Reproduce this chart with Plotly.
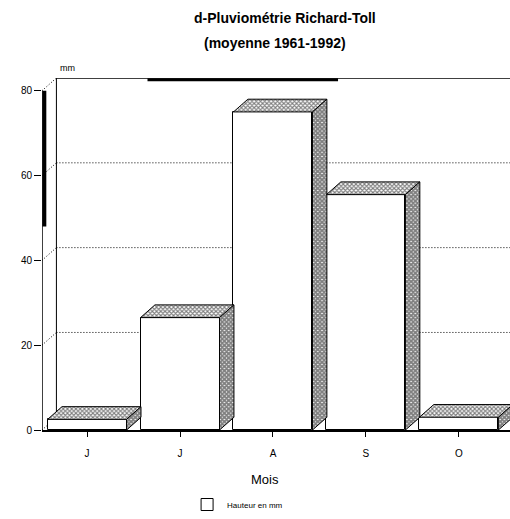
import plotly.graph_objects as go

# ---- data ----
months = ["J", "J", "A", "S", "O"]
rain_mm = [2.5, 26.5, 75.0, 55.5, 3.0]
y_ticks = [0, 20, 40, 60, 80]
y_tick_labels = ["0", "20", "40", "60", "80"]
series_name = "Hauteur en mm"

# ---- geometry (styles) ----
W, H = 510, 519
ML, MR, MT, MB = 42, 0, 78, 83
X_MIN, X_MAX = -0.485, 4.55
Y_MAX = 83.0
BAR_W = 0.85
DX, DY = 0.155, 3.0   # pseudo-3D depth in data units
FONT = "Liberation Sans"

xs = list(range(len(months)))
fig = go.Figure()

# front faces
fig.add_trace(go.Bar(
    x=xs, y=rain_mm, width=BAR_W, name=series_name,
    marker=dict(color="white", line=dict(color="black", width=1)),
    showlegend=True, hoverinfo="skip"))

# top and side faces derived from values
for x, v in zip(xs, rain_mm):
    x0, x1 = x - BAR_W / 2, x + BAR_W / 2
    fig.add_trace(go.Scatter(
        x=[x0, x1, x1 + DX, x0 + DX, x0],
        y=[v, v, v + DY, v + DY, v],
        mode="lines", fill="toself", fillcolor="white",
        fillpattern=dict(shape="x", size=3, solidity=0.6,
                         fgcolor="black", bgcolor="white"),
        line=dict(color="black", width=1),
        showlegend=False, hoverinfo="skip"))
    fig.add_trace(go.Scatter(
        x=[x1, x1 + DX, x1 + DX, x1, x1],
        y=[0, DY, v + DY, v, 0],
        mode="lines", fill="toself", fillcolor="white",
        fillpattern=dict(shape="x", size=3, solidity=0.85,
                         fgcolor="black", bgcolor="white"),
        line=dict(color="black", width=1),
        showlegend=False, hoverinfo="skip"))

shapes = []
# back-wall dotted grid lines and diagonal connectors
for t in y_ticks:
    if 0 < t < 80:
        shapes.append(dict(type="line", xref="x", yref="y", layer="below",
                           x0=X_MIN + DX, x1=X_MAX, y0=t + DY, y1=t + DY,
                           line=dict(color="black", width=1, dash="1px,2px")))
    shapes.append(dict(type="line", xref="x", yref="y", layer="below",
                       x0=X_MIN, x1=X_MIN + DX, y0=t, y1=t + DY,
                       line=dict(color="black", width=1, dash="1px,2px")))
# left axis line and back wall edges
shapes.append(dict(type="line", xref="x", yref="y", x0=X_MIN, x1=X_MIN,
                   y0=0, y1=y_ticks[-1], line=dict(color="black", width=1.5)))
shapes.append(dict(type="line", xref="x", yref="y", layer="below",
                   x0=X_MIN + DX, x1=X_MIN + DX, y0=DY, y1=Y_MAX,
                   line=dict(color="black", width=1)))
shapes.append(dict(type="line", xref="x", yref="y", layer="below",
                   x0=X_MIN + DX, x1=X_MAX, y0=Y_MAX, y1=Y_MAX,
                   line=dict(color="black", width=1.5)))
# scan artefacts: heavy strokes on the frame
shapes.append(dict(type="line", xref="x", yref="y",
                   x0=X_MIN + 0.025, x1=X_MIN + 0.025, y0=48, y1=80,
                   line=dict(color="black", width=4)))
shapes.append(dict(type="line", xref="x", yref="y",
                   x0=0.65, x1=2.7, y0=Y_MAX - 0.4, y1=Y_MAX - 0.4,
                   line=dict(color="black", width=3)))

fig.update_layout(
    width=W, height=H,
    margin=dict(l=ML, r=MR, t=MT, b=MB),
    paper_bgcolor="white", plot_bgcolor="white",
    font=dict(family=FONT, color="black", size=10),
    bargap=0,
    shapes=shapes,
    showlegend=True,
    legend=dict(orientation="h", x=0.31, xanchor="left", y=-0.212,
                yanchor="middle", font=dict(size=8, family=FONT),
                bgcolor="rgba(0,0,0,0)", itemwidth=30),
    annotations=[
        dict(text="<b>d-Pluviométrie Richard-Toll</b>", xref="paper", yref="paper",
             x=(285 - ML) / (W - ML - MR), y=1 + (MT - 17) / (H - MT - MB),
             xanchor="center", yanchor="middle", showarrow=False,
             font=dict(size=14, family=FONT)),
        dict(text="<b>(moyenne 1961-1992)</b>", xref="paper", yref="paper",
             x=(275 - ML) / (W - ML - MR), y=1 + (MT - 42) / (H - MT - MB),
             xanchor="center", yanchor="middle", showarrow=False,
             font=dict(size=14, family=FONT)),
        dict(text="mm", xref="paper", yref="paper",
             x=(67 - ML) / (W - ML - MR), y=1 + (MT - 68) / (H - MT - MB),
             xanchor="center", yanchor="middle", showarrow=False,
             font=dict(size=9, family=FONT)),
        dict(text="Mois", xref="paper", yref="paper",
             x=(265 - ML) / (W - ML - MR), y=-(486 - (H - MB)) / (H - MT - MB),
             xanchor="center", yanchor="middle", showarrow=False,
             font=dict(size=13, family=FONT)),
    ],
)
fig.update_xaxes(range=[X_MIN, X_MAX], tickmode="array", tickvals=xs,
                 ticktext=months, ticks="outside", ticklen=5, tickcolor="black",
                 showline=True, linecolor="black", linewidth=1.5,
                 showgrid=False, zeroline=False, ticklabelstandoff=8,
                 tickfont=dict(size=10))
fig.update_yaxes(range=[0, Y_MAX], tickmode="array", tickvals=y_ticks,
                 ticktext=y_tick_labels, ticks="outside", ticklen=7,
                 tickcolor="black", showline=False, showgrid=False,
                 zeroline=False, tickfont=dict(size=10))

fig.write_html("out.html")
